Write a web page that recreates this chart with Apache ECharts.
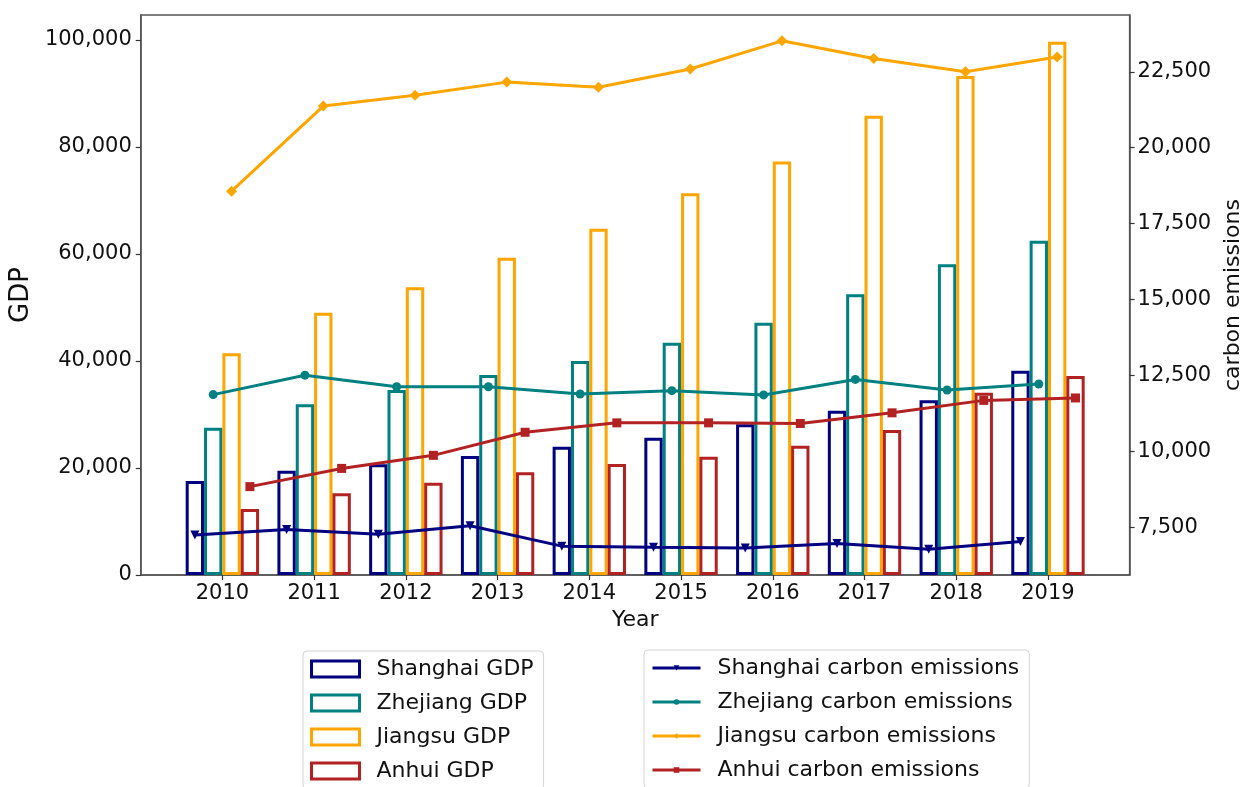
<!DOCTYPE html>
<html><head><meta charset="utf-8">
<script src="https://cdn.jsdelivr.net/npm/echarts@6/dist/echarts.min.js"></script>
<style>html,body{margin:0;padding:0;background:#fff}#c{width:1252px;height:787px}</style>
</head><body><div id="c"></div>
<script>
const YEARS = [2010, 2011, 2012, 2013, 2014, 2015, 2016, 2017, 2018, 2019];

const SHANGHAI_GDP = [17570, 19500, 20690, 22240, 23980, 25660, 28170, 30710, 32650, 38180];
const ZHEJIANG_GDP = [27530, 31900, 34580, 37380, 40000, 43420, 47150, 52460, 58070, 62480];
const JIANGSU_GDP  = [41430, 49020, 53770, 59300, 64720, 71340, 77250, 85840, 93260, 99670];
const ANHUI_GDP    = [12340, 15270, 17250, 19190, 20750, 22110, 24170, 27100, 34070, 37190];

const SHANGHAI_CO2 = [7250, 7430, 7270, 7550, 6880, 6840, 6820, 6970, 6780, 7030];
const ZHEJIANG_CO2 = [11870, 12510, 12130, 12130, 11890, 12000, 11860, 12370, 12020, 12220];
const JIANGSU_CO2  = [18570, 21370, 21730, 22160, 21990, 22590, 23520, 22940, 22500, 22990];
const ANHUI_CO2    = [8840, 9440, 9870, 10630, 10940, 10940, 10920, 11270, 11680, 11760];

const GDP_TICKS = [0, 20000, 40000, 60000, 80000, 100000];
const CO2_TICKS = [7500, 10000, 12500, 15000, 17500, 20000, 22500];

const BAR_NAMES = ['Shanghai GDP', 'Zhejiang GDP', 'Jiangsu GDP', 'Anhui GDP'];
const LINE_NAMES = ['Shanghai carbon emissions', 'Zhejiang carbon emissions', 'Jiangsu carbon emissions', 'Anhui carbon emissions'];

const COLORS = ['#000080', '#008080', '#FFA500', '#B22222'];
const SYMBOLS = ['triangle', 'circle', 'diamond', 'rect'];
const SYMBOL_ROT = [180, 0, 0, 0];
const SYMBOL_SIZE = [9, 9, 11, 9];
const BAR_FRACTION = 0.2;
const FONT = 'DejaVu Sans';

const gdpSets = [SHANGHAI_GDP, ZHEJIANG_GDP, JIANGSU_GDP, ANHUI_GDP];
const co2Sets = [SHANGHAI_CO2, ZHEJIANG_CO2, JIANGSU_CO2, ANHUI_CO2];

const fmt = v => Number(v).toLocaleString('en-US');

const series = [];
gdpSets.forEach((arr, k) => {
  series.push({
    name: BAR_NAMES[k], type: 'bar', yAxisIndex: 0, xAxisIndex: 0,
    data: YEARS.map((y, i) => [y, arr[i]]),
    barWidth: (BAR_FRACTION * 100) + '%', barGap: '0%',
    itemStyle: { color: 'rgba(255,255,255,0)', borderColor: COLORS[k], borderWidth: 3 },
    emphasis: { disabled: true }, z: 2
  });
});
co2Sets.forEach((arr, k) => {
  const off = (k - 1.5) * BAR_FRACTION;
  series.push({
    name: LINE_NAMES[k], type: 'line', yAxisIndex: 1, xAxisIndex: 0,
    data: YEARS.map((y, i) => [y + off, arr[i]]),
    symbol: SYMBOLS[k], symbolRotate: SYMBOL_ROT[k], symbolSize: SYMBOL_SIZE[k],
    showAllSymbol: true,
    lineStyle: { color: COLORS[k], width: 3 },
    itemStyle: { color: COLORS[k], borderWidth: 0 },
    emphasis: { disabled: true }, z: 3
  });
});

const chart = echarts.init(document.getElementById('c'), null, { renderer: 'canvas' });
chart.setOption({
  animation: false,
  backgroundColor: '#ffffff',
  textStyle: { fontFamily: FONT, color: '#111' },
  grid: { left: 139, right: 109, top: 15, bottom: 212, show: true, borderColor: '#555', borderWidth: 1.5, containLabel: false },
  xAxis: {
    type: 'value', min: 2009.11, max: 2019.89,
    name: 'Year', nameLocation: 'middle', nameGap: 33,
    nameTextStyle: { fontFamily: FONT, fontSize: 22, color: '#111' },
    axisLine: { show: true, lineStyle: { color: '#555', width: 1.5 } },
    axisTick: { show: true, length: 5, lineStyle: { color: '#333', width: 1.2 }, customValues: YEARS },
    axisLabel: { fontFamily: FONT, fontSize: 21, color: '#111', margin: 8, customValues: YEARS, formatter: v => String(Math.round(v)) },
    splitLine: { show: false }
  },
  yAxis: [{
    type: 'value', min: 0, max: 104650, position: 'left',
    name: 'GDP', nameLocation: 'middle', nameGap: 93, nameRotate: 90,
    nameTextStyle: { fontFamily: FONT, fontSize: 26, color: '#111' },
    axisLine: { show: true, lineStyle: { color: '#555', width: 1.5 } },
    axisTick: { show: true, length: 5, lineStyle: { color: '#333', width: 1.2 }, customValues: GDP_TICKS },
    axisLabel: { fontFamily: FONT, fontSize: 21, color: '#111', margin: 9, customValues: GDP_TICKS, formatter: fmt },
    splitLine: { show: false }
  }, {
    type: 'value', min: 5930, max: 24370, position: 'right',
    name: 'carbon emissions', nameLocation: 'middle', nameGap: 81, nameRotate: 90,
    nameTextStyle: { fontFamily: FONT, fontSize: 22, color: '#111' },
    axisLine: { show: true, lineStyle: { color: '#555', width: 1.5 } },
    axisTick: { show: true, length: 5, lineStyle: { color: '#333', width: 1.2 }, customValues: CO2_TICKS },
    axisLabel: { fontFamily: FONT, fontSize: 21, color: '#111', margin: 8, customValues: CO2_TICKS, formatter: fmt },
    splitLine: { show: false }
  }],
  legend: [{
    data: BAR_NAMES, orient: 'vertical', left: 303, top: 651, height: 300,
    icon: 'rect', itemWidth: 48, itemHeight: 16, itemGap: 12,
    padding: [7, 10, 7, 7], borderColor: '#d3d3d3', borderWidth: 1, borderRadius: 4,
    itemStyle: { borderWidth: 3 },
    textStyle: { fontFamily: FONT, fontSize: 22, color: '#111', padding: [0, 0, 0, 12] },
    selectedMode: false
  }, {
    data: LINE_NAMES, orient: 'vertical', left: 644, top: 650, height: 300,
    itemWidth: 48, itemHeight: 7, itemGap: 12,
    padding: [7, 10, 7, 7], borderColor: '#d3d3d3', borderWidth: 1, borderRadius: 4,
    itemStyle: { borderWidth: 0 },
    lineStyle: { width: 3 },
    textStyle: { fontFamily: FONT, fontSize: 22, color: '#111', padding: [0, 0, 0, 12] },
    selectedMode: false
  }],
  series: series
});
</script></body></html>
